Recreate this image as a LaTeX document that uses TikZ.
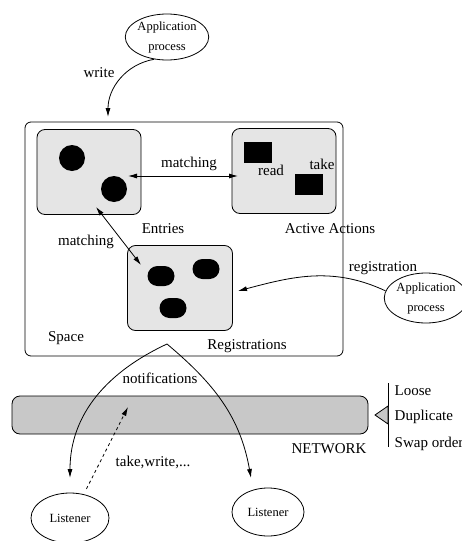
\documentclass[tikz,border=0pt]{standalone}
\usepackage{fontspec}
\setmainfont{Liberation Serif}
\usetikzlibrary{shapes.geometric,arrows.meta}

\definecolor{boxgray}{RGB}{229,229,229}
\definecolor{netgray}{RGB}{200,200,200}

\begin{document}
\begin{tikzpicture}[x=1pt,y=-1pt,line width=0.8pt,>={Latex[length=9pt,width=5pt]},
  every node/.style={font=\fontsize{15}{18}\selectfont},
  innerbox/.style={draw,fill=boxgray,rounded corners=8pt,minimum width=104pt,minimum height=85pt,inner sep=0pt},
  proc/.style={draw,ellipse,inner sep=0pt,align=center,font=\fontsize{12.5}{20}\selectfont},
  entry/.style={circle,fill=black,inner sep=0pt,minimum size=26pt},
  action/.style={rectangle,fill=black,inner sep=0pt,minimum width=28pt,minimum height=21pt},
  regis/.style={rectangle,fill=black,rounded corners=10pt,inner sep=0pt,minimum width=27pt,minimum height=20pt}]
  \useasboundingbox (0,0) rectangle (462,541);
  \node[proc,minimum width=78pt,minimum height=46pt] (app1) at (167,37) {Application\\process};
  \node[draw,rounded corners=6pt,minimum width=318pt,minimum height=234pt,inner sep=0pt] (space) at (184,239) {};
  \node[innerbox] (entries) at (89,172) {};
  \node[innerbox] (actions) at (284,171) {};
  \node[innerbox,minimum width=105pt] (registrations) at (180,288) {};
  \node[entry] (e1) at (72,158) {};
  \node[entry] (e2) at (114,189) {};
  \node[action] (a1) at (258,152) {};
  \node[action] (a2) at (309,184) {};
  \node[regis] (r1) at (161,276) {};
  \node[regis] (r2) at (206,269) {};
  \node[regis] (r3) at (173,308) {};
  \node (write) at (99,73) {write};
  \node (read) at (271,170) {read};
  \node (take) at (322,164) {take};
  \node (match1) at (189,164) {matching};
  \node (match2) at (86,242) {matching};
  \node (entrieslabel) at (163,229) {Entries};
  \node (actionslabel) at (330,229) {Active Actions};
  \node (reglabel) at (247,346) {Registrations};
  \node (spacelabel) at (66,338) {Space};
  \node (registration) at (383,268) {registration};
  \node[proc,minimum width=76pt,minimum height=50pt] (app2) at (426,298) {Application\\process};
  \node (notif) at (160,378) {notifications};
  \node[draw,fill=netgray,rounded corners=8pt,minimum width=356pt,minimum height=38pt,inner sep=0pt] (network) at (190,415) {};
  \node (netlabel) at (329,449) {NETWORK};
  \node (twlabel) at (153,462) {take,write,...};
  \node[proc,minimum width=78pt,minimum height=50pt] (listener1) at (70,518) {Listener};
  \node[proc,minimum width=72pt,minimum height=48pt] (listener2) at (268,512) {Listener};
  \node[anchor=west] (loose) at (391,391) {Loose};
  \node[anchor=west] (dup) at (391,417) {Duplicate};
  \node[anchor=west] (swap) at (391,444) {Swap order};
  \coordinate (wtip) at (108,117);
  \coordinate (m1) at (128,176);
  \coordinate (m2) at (238,176);
  \coordinate (m3) at (96,207);
  \coordinate (m4) at (141,265);
  \coordinate (rtip) at (238,291);
  \coordinate (npeak) at (167,344);
  \coordinate (n1) at (70,478);
  \coordinate (n2) at (251,478);
  \coordinate (dtip) at (128,407);
  \coordinate (btop) at (388,383);
  \coordinate (bbot) at (388,447);
  \draw[->] (app1.240) to[out=190,in=90] (wtip);
  \draw[<->] (m1) -- (m2);
  \draw[<->] (m3) -- (m4);
  \draw[->] (app2.170) to[out=155,in=15] (rtip);
  \draw[->] (npeak) to[out=205,in=90] (n1);
  \draw[->] (npeak) to[out=-40,in=100] (n2);
  \draw[dashed,->,shorten <=6pt] (listener1.60) -- (dtip);
  \draw (btop) -- (bbot);
  \draw[fill=netgray] (375,415) -- (388,406) -- (388,424) -- cycle;
\end{tikzpicture}
\end{document}
